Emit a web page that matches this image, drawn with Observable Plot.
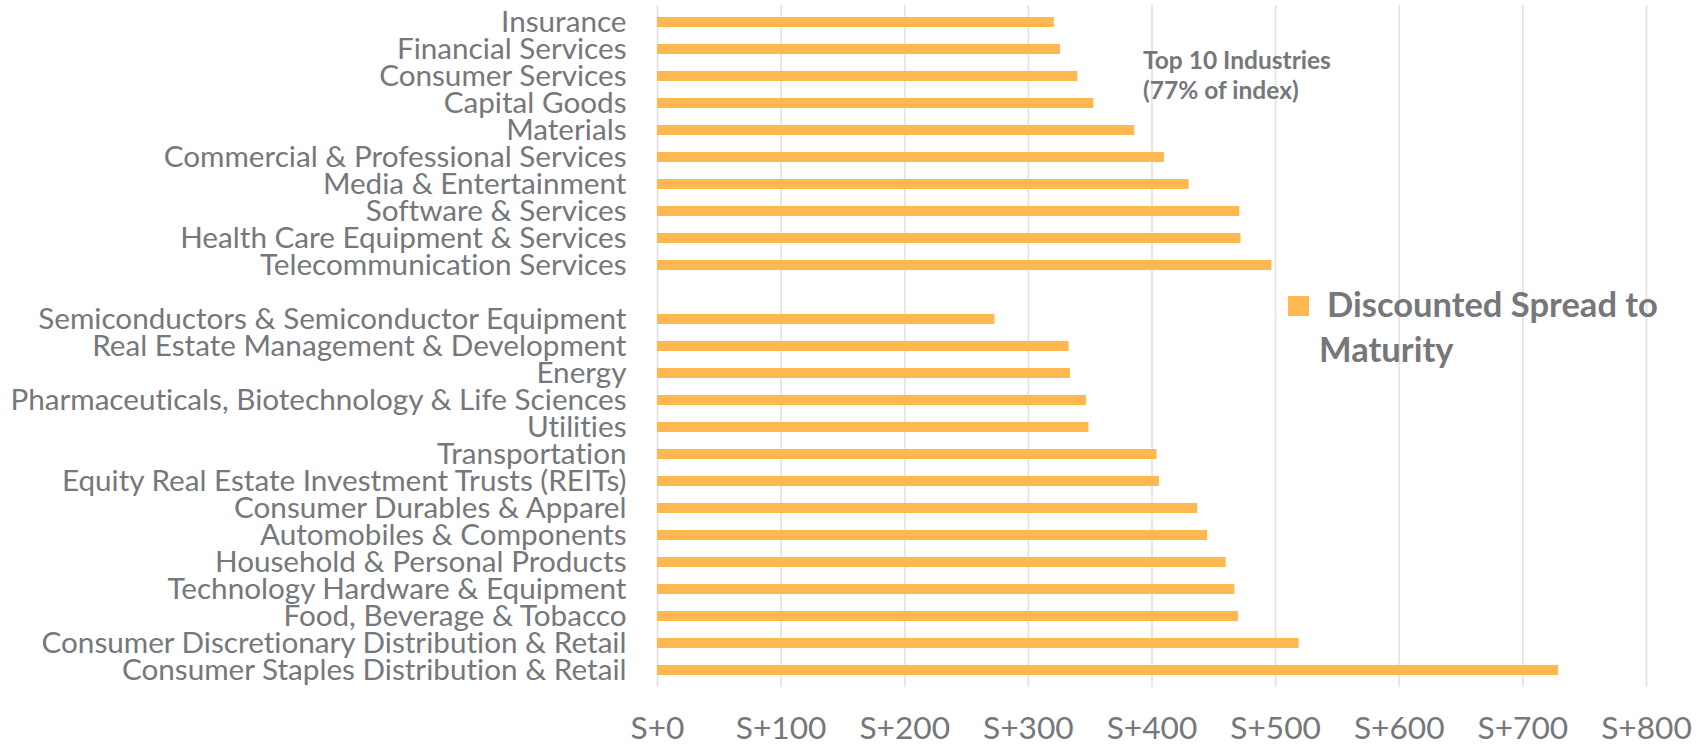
<!DOCTYPE html>
<html>
<head>
<meta charset="utf-8">
<script src="https://cdn.jsdelivr.net/npm/d3@7"></script>
<script src="https://cdn.jsdelivr.net/npm/@observablehq/plot@0.6"></script>
<style>
  html, body { margin: 0; padding: 0; background: #ffffff; }
  #chart { position: relative; width: 1708px; height: 751px; }
  #chart svg, #chart svg text { font-variant-ligatures: none; font-feature-settings: "liga" 0, "clig" 0; }
</style>
</head>
<body>
<div id="chart"></div>
<script>
// ---- data ----
const topIndustries = [
  "Insurance",
  "Financial Services",
  "Consumer Services",
  "Capital Goods",
  "Materials",
  "Commercial & Professional Services",
  "Media & Entertainment",
  "Software & Services",
  "Health Care Equipment & Services",
  "Telecommunication Services"
];
const topValues = [321, 326, 340, 353, 386, 410, 430, 471, 472, 497];

const otherIndustries = [
  "Semiconductors & Semiconductor Equipment",
  "Real Estate Management & Development",
  "Energy",
  "Pharmaceuticals, Biotechnology & Life Sciences",
  "Utilities",
  "Transportation",
  "Equity Real Estate Investment Trusts (REITs)",
  "Consumer Durables & Apparel",
  "Automobiles & Components",
  "Household & Personal Products",
  "Technology Hardware & Equipment",
  "Food, Beverage & Tobacco",
  "Consumer Discretionary Distribution & Retail",
  "Consumer Staples Distribution & Retail"
];
const otherValues = [273, 333, 334, 347, 349, 404, 406, 437, 445, 460, 467, 470, 519, 729];

const xTicks = [0, 100, 200, 300, 400, 500, 600, 700, 800];
const seriesName = "Discounted Spread to Maturity";
const annotationLines = ["Top 10 Industries", "(77% of index)"];

// ---- build table ----
const spacer = " ";
const yDomain = [...topIndustries, spacer, ...otherIndustries];
const rows = [
  ...topIndustries.map((industry, i) => ({industry, value: topValues[i]})),
  ...otherIndustries.map((industry, i) => ({industry, value: otherValues[i]}))
];

// ---- styling ----
const FONT = "Lato, 'Open Sans', sans-serif";
const TEXT = "#75777b";
const BAR = "#FFB84F";
const GRID = "#e3e3e3";

const ctx = document.createElement("canvas").getContext("2d");
function fit(text, weight, target) {
  ctx.font = `${weight} 100px Lato`;
  return 100 * target / ctx.measureText(text).width;
}
const yFont = fit("Commercial & Professional Services", 400, 463);
const xFont = fit("S+800", 400, 90.7);
const annFont = fit("Top 10 Industries", 700, 188);
const legFont = fit("Discounted Spread to", 700, 331);

const W = 1708, H = 751;
const marginTop = 5, marginBottom = 64, marginLeft = 657, marginRight = 62;
const xBaseline = 738; // baseline of x tick labels
const xPad = xBaseline - (H - marginBottom) - 0.71 * xFont;

const chart = Plot.plot({
  width: W,
  height: H,
  marginTop, marginBottom, marginLeft, marginRight,
  style: {fontFamily: FONT, color: TEXT, background: "#ffffff", overflow: "visible"},
  x: {domain: [0, 800]},
  y: {domain: yDomain, paddingInner: 0.633, paddingOuter: 0.3165},
  marks: [
    Plot.gridX(xTicks, {stroke: GRID, strokeOpacity: 1, strokeWidth: 1.7}),
    Plot.barX(rows, {x: "value", y: "industry", fill: BAR}),
    Plot.axisY({tickSize: 0, tickPadding: 31, fontSize: yFont, label: null}),
    Plot.axisX(xTicks, {tickSize: 0, tickPadding: xPad, fontSize: xFont, label: null,
      tickFormat: d => "S+" + d})
  ]
});
document.getElementById("chart").appendChild(chart);

// ---- annotation and legend (drawn in the SVG) ----
const svg = d3.select(chart);
const ann = svg.append("g")
  .attr("font-family", FONT).attr("font-weight", 700)
  .attr("font-size", annFont).attr("fill", TEXT)
  .attr("text-anchor", "start");
ann.selectAll("text").data(annotationLines).join("text")
  .attr("x", 1143)
  .attr("y", (d, i) => 69 + i * 29.5)
  .attr("text-anchor", "start")
  .text(d => d);

const leg = svg.append("g")
  .attr("font-family", FONT).attr("font-weight", 700)
  .attr("font-size", legFont).attr("fill", TEXT)
  .attr("text-anchor", "start");
leg.append("rect").attr("x", 1288).attr("y", 296).attr("width", 21).attr("height", 20).attr("fill", BAR);
const words = seriesName.split(" ");
leg.append("text").attr("x", 1327).attr("y", 316.5).attr("text-anchor", "start").text(words.slice(0, 3).join(" "));
leg.append("text").attr("x", 1319).attr("y", 362).attr("text-anchor", "start").text(words.slice(3).join(" "));
</script>
</body>
</html>
